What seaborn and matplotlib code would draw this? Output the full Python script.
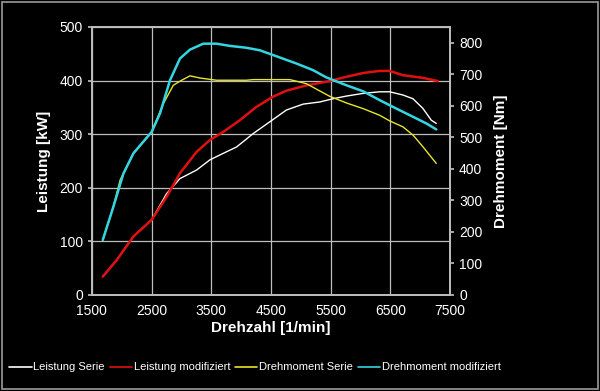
import numpy as np
import pandas as pd
import matplotlib
matplotlib.use("Agg")
import matplotlib.pyplot as plt
import seaborn as sns

sns.set_theme(style="dark")
plt.rcParams["font.family"] = ["Liberation Sans", "DejaVu Sans"]

# Leistung (kW) vs Drehzahl
rpm_ls = [1684, 1918, 2197, 2503, 2754, 2977, 3256, 3479, 3700, 3925, 4203, 4482, 4760,
          5040, 5318, 5540, 5764, 6043, 6320, 6489, 6712, 6880, 7046, 7186, 7270]
kw_serie = [34, 65, 109, 140, 189, 217, 233, 252, 264, 276, 301, 323, 345,
            356, 360, 366, 371, 376, 379, 379, 373, 366, 348, 326, 320]

rpm_lm = [1684, 1918, 2197, 2503, 2754, 2977, 3256, 3479, 3700, 3980, 4259, 4538, 4760,
          5095, 5485, 5764, 6043, 6320, 6489, 6712, 7046, 7296]
kw_mod = [34, 65, 109, 140, 183, 227, 267, 289, 304, 326, 351, 370, 381,
          391, 399, 407, 414, 418, 418, 410, 405, 399]

# Drehmoment (Nm) vs Drehzahl
rpm_ds = [1684, 1862, 1974, 2197, 2503, 2699, 2865, 2977, 3144, 3311, 3590, 4092, 4203,
          4817, 5095, 5485, 5764, 6043, 6320, 6489, 6712, 6880, 7046, 7270]
nm_serie = [174, 280, 364, 449, 517, 607, 665, 678, 695, 688, 681, 681, 683,
            683, 670, 630, 609, 591, 570, 552, 533, 507, 470, 417]

rpm_dm = [1684, 1862, 2030, 2197, 2503, 2643, 2810, 2977, 3144, 3367, 3590, 3813, 4092,
          4315, 4594, 4928, 5206, 5429, 5764, 6043, 6320, 6601, 6880, 7102, 7270]
nm_mod = [174, 280, 385, 449, 517, 576, 681, 750, 778, 797, 797, 790, 784,
          776, 757, 734, 713, 690, 665, 646, 618, 591, 565, 544, 525]

fig = plt.figure(figsize=(6, 3.91), dpi=100, facecolor="black")
ax = fig.add_axes([0.153, 0.246, 0.597, 0.685])
ax2 = ax.twinx()
ax.set_facecolor("black")

grid_c = "#bdbdbd"
ax.set_xlim(1500, 7500)
ax.set_ylim(0, 500)
ax2.set_ylim(0, 850)
ax.set_xticks(np.arange(1500, 7501, 1000))
ax.set_yticks(np.arange(0, 501, 100))
ax2.set_yticks(np.arange(0, 801, 100))
ax.grid(True, color=grid_c, linewidth=0.9)
ax2.grid(False)

sns.lineplot(x=rpm_ls, y=kw_serie, ax=ax, color="white", linewidth=1.0, label="Leistung Serie")
sns.lineplot(x=rpm_lm, y=kw_mod, ax=ax, color="#e01010", linewidth=1.8, label="Leistung modifiziert")
sns.lineplot(x=rpm_ds, y=nm_serie, ax=ax2, color="#e6e62a", linewidth=1.0, label="Drehmoment Serie")
sns.lineplot(x=rpm_dm, y=nm_mod, ax=ax2, color="#33d6e0", linewidth=1.8, label="Drehmoment modifiziert")

for a in (ax, ax2):
    for s in a.spines.values():
        s.set_color(grid_c)
    a.tick_params(colors="white", labelsize=10, length=3, direction="out")
    a.tick_params(axis="both", color=grid_c)

ax.set_xlabel("Drehzahl [1/min]", color="white", fontsize=11, fontweight="bold", labelpad=2)
ax.set_ylabel("Leistung [kW]", color="white", fontsize=11, fontweight="bold", labelpad=6)
ax2.set_ylabel("Drehmoment [Nm]", color="white", fontsize=11, fontweight="bold", labelpad=8)

h1, lab1 = ax.get_legend_handles_labels()
h2, lab2 = ax2.get_legend_handles_labels()
ax.get_legend().remove()
ax2.get_legend().remove()
leg = fig.legend(h1 + h2, lab1 + lab2, loc="lower center", bbox_to_anchor=(0.425, 0.022),
                 ncol=4, frameon=False, handlelength=2.0, handletextpad=0.15,
                 columnspacing=0.45, labelcolor="white", fontsize=8)
for lh in leg.get_lines():
    lh.set_linewidth(1.2)

border = plt.Rectangle((0.004, 0.006), 0.992, 0.988, transform=fig.transFigure,
                       fill=False, edgecolor="#9a9a9a", linewidth=1.2)
fig.patches.append(border)

fig.savefig("out.png", dpi=100, facecolor="black")
